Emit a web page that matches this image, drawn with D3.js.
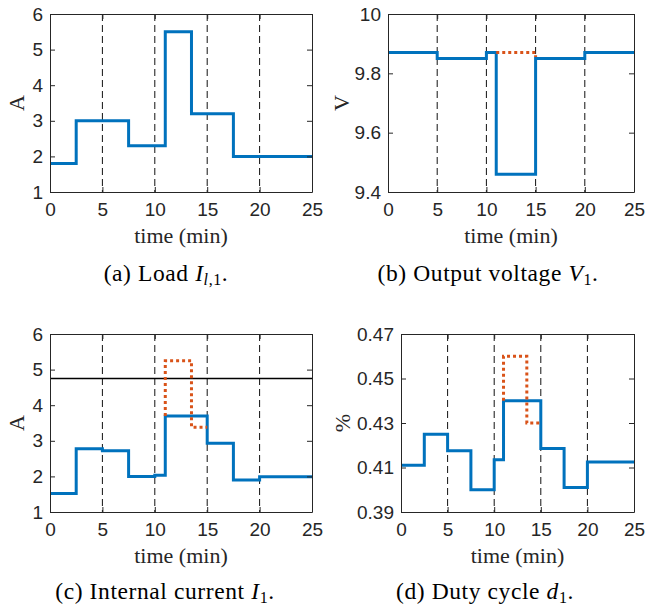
<!DOCTYPE html>
<html>
<head>
<meta charset="utf-8">
<script src="https://cdn.jsdelivr.net/npm/d3@7"></script>
<style>
  body { margin: 0; background: #fff; }
  .tick text { font-family: "Liberation Sans", Arial, sans-serif; font-size: 19px; fill: #262626; }
  .tick line { stroke: #262626; }
  .domain { stroke: #262626; }
  .axlabel { font-family: "Liberation Serif", serif; font-size: 22px; fill: #262626; }
  .caption { font-family: "Liberation Serif", serif; font-size: 23.5px; letter-spacing: 0.6px; fill: #000; }
</style>
</head>
<body>
<div id="chart"></div>
<script>
// x axis ticks and event markers (min)
var timeTicks = [0, 5, 10, 15, 20, 25];
var eventTimes = [5, 10, 15, 20];

// (a) load current
var loadTime = [0, 2.5, 7.5, 11, 13.5, 17.5, 25];
var loadCurrent = [1.8, 3.0, 2.3, 5.5, 3.2, 2.0, 2.0];

// (b) output voltage
var voltTime = [0, 5, 10, 11, 15, 20, 25];
var voltValue = [9.87, 9.85, 9.87, 9.46, 9.85, 9.87, 9.87];
var voltRefTime = [11, 15, 15];
var voltRefValue = [9.87, 9.87, 9.855];

// (c) internal current
var curTime = [0, 2.5, 5, 7.5, 10, 11, 15, 17.5, 20, 25];
var curValue = [1.52, 2.78, 2.72, 2.0, 2.03, 3.7, 2.93, 1.9, 1.99, 1.99];
var curRefTime = [11, 11, 13.5, 15];
var curRefValue = [3.7, 5.25, 3.38, 3.38];
var curLimit = 4.75;

// (d) duty cycle
var dutyTime = [0, 2.5, 5, 7.5, 10, 11, 15, 17.5, 20, 25];
var dutyValue = [0.411, 0.425, 0.4175, 0.400, 0.4135, 0.440, 0.4185, 0.401, 0.4125, 0.4125];
var dutyRefTime = [11, 11, 13.5, 15];
var dutyRefValue = [0.44, 0.46, 0.43, 0.43];

// y tick labels
var ampTicks = [1, 2, 3, 4, 5, 6];
var voltTicks = [9.4, 9.6, 9.8, 10];
var voltTickLabels = ["9.4", "9.6", "9.8", "10"];
var dutyTicks = [0.39, 0.41, 0.43, 0.45, 0.47];
var dutyTickLabels = ["0.39", "0.41", "0.43", "0.45", "0.47"];

var blue = "#0072BD", red = "#D95319";

var svg = d3.select("#chart").append("svg")
    .attr("width", 649)
    .attr("height", 605);

var panels = [
  { box: [50, 312, 14, 192], yDomain: [1, 6], yTicks: ampTicks, yLabels: ampTicks.map(String), ylabel: "A", ylx: 16,
    t: loadTime, v: loadCurrent },
  { box: [388, 634, 14, 192], yDomain: [9.4, 10], yTicks: voltTicks, yLabels: voltTickLabels, ylabel: "V", ylx: 341,
    t: voltTime, v: voltValue, rt: voltRefTime, rv: voltRefValue },
  { box: [50, 312, 334, 512], yDomain: [1, 6], yTicks: ampTicks, yLabels: ampTicks.map(String), ylabel: "A", ylx: 16,
    t: curTime, v: curValue, rt: curRefTime, rv: curRefValue, limit: curLimit },
  { box: [401, 634, 334, 512], yDomain: [0.39, 0.47], yTicks: dutyTicks, yLabels: dutyTickLabels, ylabel: "%", ylx: 342,
    t: dutyTime, v: dutyValue, rt: dutyRefTime, rv: dutyRefValue }
];

panels.forEach(function(p){
  var x = d3.scaleLinear().domain([0, 25]).range([p.box[0], p.box[1]]);
  var y = d3.scaleLinear().domain(p.yDomain).range([p.box[3], p.box[2]]);
  var g = svg.append("g");

  // event markers
  g.selectAll(".ev").data(eventTimes).enter().append("line")
      .attr("x1", function(d){ return x(d); }).attr("x2", function(d){ return x(d); })
      .attr("y1", p.box[2]).attr("y2", p.box[3])
      .attr("stroke", "#111").attr("stroke-width", 1).attr("stroke-dasharray", "7,4");

  if (p.limit !== undefined) {
    g.append("line")
        .attr("x1", x(0)).attr("x2", x(25))
        .attr("y1", y(p.limit)).attr("y2", y(p.limit))
        .attr("stroke", "#000").attr("stroke-width", 1.5);
  }

  var line = d3.line()
      .x(function(d){ return x(d[0]); })
      .y(function(d){ return y(d[1]); })
      .curve(d3.curveStepAfter);

  g.append("path")
      .datum(d3.zip(p.t, p.v))
      .attr("fill", "none").attr("stroke", blue).attr("stroke-width", 3)
      .attr("d", line);

  if (p.rt) {
    g.append("path")
        .datum(d3.zip(p.rt, p.rv))
        .attr("fill", "none").attr("stroke", red).attr("stroke-width", 3)
        .attr("stroke-dasharray", "3,3")
        .attr("d", line);
  }

  // axes, MATLAB box style with inward ticks
  g.append("g").attr("transform", "translate(0," + p.box[3] + ")")
      .call(d3.axisBottom(x).tickValues(timeTicks).tickSize(-5).tickSizeOuter(0).tickPadding(11));
  g.append("g").attr("transform", "translate(0," + p.box[2] + ")")
      .call(d3.axisTop(x).tickValues(timeTicks).tickSize(-5).tickSizeOuter(0).tickFormat(""));
  g.append("g").attr("transform", "translate(" + p.box[0] + ",0)")
      .call(d3.axisLeft(y).tickValues(p.yTicks).tickSize(-5).tickSizeOuter(0).tickPadding(7)
        .tickFormat(function(d, i){ return p.yLabels[i]; }));
  g.append("g").attr("transform", "translate(" + p.box[1] + ",0)")
      .call(d3.axisRight(y).tickValues(p.yTicks).tickSize(-5).tickSizeOuter(0).tickFormat(""));
  g.selectAll(".tick text").attr("fill", "#262626");

  g.append("text").attr("class", "axlabel")
      .attr("x", (p.box[0] + p.box[1]) / 2).attr("y", p.box[3] + 51)
      .attr("text-anchor", "middle").text("time (min)");
  g.append("text").attr("class", "axlabel")
      .attr("transform", "translate(" + p.ylx + "," + (p.box[2] + p.box[3]) / 2 + ") rotate(-90)")
      .attr("text-anchor", "middle").attr("dominant-baseline", "central").text(p.ylabel);
});

// captions
function caption(cx, cy, pre, sym, sub, subItalic) {
  var t = svg.append("text").attr("class", "caption")
      .attr("x", cx).attr("y", cy).attr("text-anchor", "middle");
  t.append("tspan").text(pre);
  t.append("tspan").attr("font-style", "italic").text(sym);
  sub.forEach(function(s, i){
    t.append("tspan").attr("font-size", "16px")
        .attr("dy", i === 0 ? 4 : 0)
        .attr("font-style", subItalic[i] ? "italic" : "normal").text(s);
  });
  t.append("tspan").attr("dy", -4).text(".");
}
caption(166, 281, "(a) Load ", "I", ["l", ",1"], [true, false]);
caption(488, 281, "(b) Output voltage ", "V", ["1"], [false]);
caption(165, 599, "(c) Internal current ", "I", ["1"], [false]);
caption(485, 599, "(d) Duty cycle ", "d", ["1"], [false]);
</script>
</body>
</html>
